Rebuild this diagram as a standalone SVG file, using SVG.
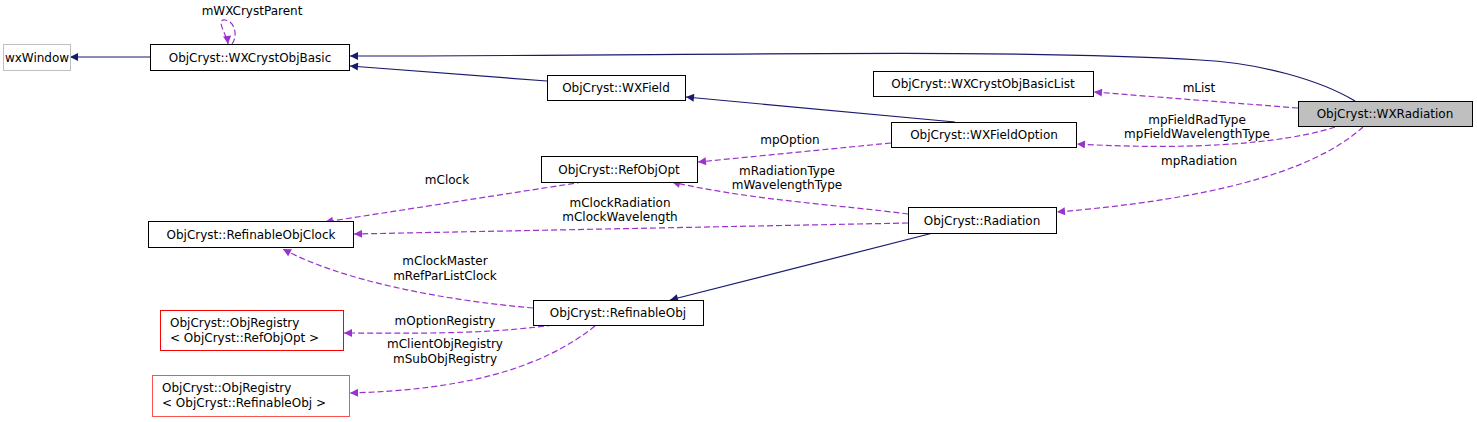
<svg xmlns="http://www.w3.org/2000/svg" width="1477" height="422" viewBox="0 0 1477 422">
<style>
text{font-family:"DejaVu Sans",sans-serif;font-size:12px;fill:#000}
.n rect{fill:#fff;stroke:#000;stroke-width:1}
.c{text-anchor:middle}
.inh{fill:none;stroke:#191970;stroke-width:1.2}
.use{fill:none;stroke:#9a32cd;stroke-width:1.2;stroke-dasharray:6,3}
</style>
<defs>
<marker id="an" viewBox="0 0 10 10" refX="10" refY="5" markerWidth="10" markerHeight="8" markerUnits="userSpaceOnUse" orient="auto"><path d="M0,0L10,5L0,10z" fill="#191970"/></marker>
<marker id="ap" viewBox="0 0 10 10" refX="10" refY="5" markerWidth="10" markerHeight="8" markerUnits="userSpaceOnUse" orient="auto"><path d="M0,0L10,5L0,10z" fill="#9a32cd"/></marker>
</defs>
<rect width="1477" height="422" fill="#fff"/>
<g id="connectors">
<path class="inh" marker-end="url(#an)" d="M150,57L70,57"/>
<path class="inh" marker-end="url(#an)" d="M1355,101C1320,80 1260,63 1200,60C1000,48 700,56 350,56"/>
<path class="inh" marker-end="url(#an)" d="M547,81L350,66"/>
<path class="inh" marker-end="url(#an)" d="M955,122L686,97"/>
<path class="inh" marker-end="url(#an)" d="M933,233L670,300"/>
<path class="use" marker-end="url(#ap)" d="M232,44C238,36 235,21 225,20C215,19 227,35 228,44"/>
<path class="use" marker-end="url(#ap)" d="M1298,108L1094,92"/>
<path class="use" marker-end="url(#ap)" d="M1335,127C1280,145 1180,150 1077,144"/>
<path class="use" marker-end="url(#ap)" d="M1363,127C1310,175 1200,200 1057,212"/>
<path class="use" marker-end="url(#ap)" d="M891,143L698,162"/>
<path class="use" marker-end="url(#ap)" d="M908,214C840,205 750,200 672,182"/>
<path class="use" marker-end="url(#ap)" d="M583,182L325,222"/>
<path class="use" marker-end="url(#ap)" d="M908,223L354,234"/>
<path class="use" marker-end="url(#ap)" d="M533,308C440,300 340,280 283,249"/>
<path class="use" marker-end="url(#ap)" d="M553,325C480,335 410,333 344,333"/>
<path class="use" marker-end="url(#ap)" d="M595,326C540,370 460,390 350,393"/>
<text class="c" x="252" y="15">mWXCrystParent</text>
<text class="c" x="1199" y="92">mList</text>
<text class="c" x="1197" y="124">mpFieldRadType</text>
<text class="c" x="1197" y="138">mpFieldWavelengthType</text>
<text class="c" x="1199" y="165">mpRadiation</text>
<text class="c" x="790" y="144">mpOption</text>
<text class="c" x="787" y="175">mRadiationType</text>
<text class="c" x="787" y="189">mWavelengthType</text>
<text class="c" x="447" y="184">mClock</text>
<text class="c" x="620" y="207">mClockRadiation</text>
<text class="c" x="620" y="221">mClockWavelength</text>
<text class="c" x="445" y="265">mClockMaster</text>
<text class="c" x="445" y="280">mRefParListClock</text>
<text class="c" x="445" y="325">mOptionRegistry</text>
<text class="c" x="445" y="348">mClientObjRegistry</text>
<text class="c" x="445" y="363">mSubObjRegistry</text>
</g>
<g id="wxWindow" class="n"><rect x="3.5" y="44.5" width="67" height="26" style="stroke:#bfbfbf"/><text class="c" x="37" y="62">wxWindow</text></g>
<g id="WXCrystObjBasic" class="n"><rect x="150.5" y="44.5" width="199" height="26"/><text class="c" x="250" y="62">ObjCryst::WXCrystObjBasic</text></g>
<g id="WXField" class="n"><rect x="547.5" y="75.5" width="138" height="25"/><text class="c" x="616" y="92">ObjCryst::WXField</text></g>
<g id="WXCrystObjBasicList" class="n"><rect x="873.5" y="71.5" width="220" height="25"/><text class="c" x="983" y="88">ObjCryst::WXCrystObjBasicList</text></g>
<g id="WXRadiation" class="n"><rect x="1298.5" y="101.5" width="174" height="25" style="fill:#bfbfbf"/><text class="c" x="1385" y="118">ObjCryst::WXRadiation</text></g>
<g id="WXFieldOption" class="n"><rect x="891.5" y="122.5" width="185" height="25"/><text class="c" x="984" y="139">ObjCryst::WXFieldOption</text></g>
<g id="RefObjOpt" class="n"><rect x="541.5" y="156.5" width="156" height="26"/><text class="c" x="619" y="174">ObjCryst::RefObjOpt</text></g>
<g id="RefinableObjClock" class="n"><rect x="148.5" y="221.5" width="205" height="26"/><text class="c" x="251" y="239">ObjCryst::RefinableObjClock</text></g>
<g id="Radiation" class="n"><rect x="908.5" y="207.5" width="148" height="26"/><text class="c" x="982" y="225">ObjCryst::Radiation</text></g>
<g id="RefinableObj" class="n"><rect x="533.5" y="300.5" width="170" height="25"/><text class="c" x="618" y="317">ObjCryst::RefinableObj</text></g>
<g id="ObjRegistryRefObjOpt" class="n"><rect x="160.5" y="310.5" width="183" height="40" style="stroke:#ff0000"/><text x="170" y="327">ObjCryst::ObjRegistry</text><text x="170" y="342">&lt; ObjCryst::RefObjOpt &gt;</text></g>
<g id="ObjRegistryRefinableObj" class="n"><rect x="152.5" y="375.5" width="197" height="41" style="stroke:#ff5050"/><text x="162" y="392">ObjCryst::ObjRegistry</text><text x="162" y="407">&lt; ObjCryst::RefinableObj &gt;</text></g>
</svg>
